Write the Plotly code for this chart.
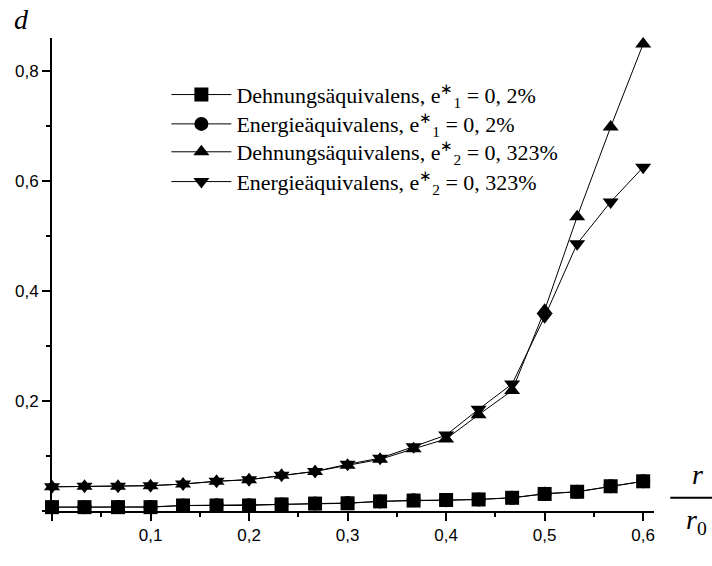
import plotly.graph_objects as go

# relative radius r/r0
r_ratio = [0.0, 0.033, 0.067, 0.1, 0.133, 0.167, 0.2, 0.233, 0.267, 0.3,
           0.333, 0.367, 0.4, 0.433, 0.467, 0.5, 0.533, 0.567, 0.6]

# damage d, e1* = 0,2 %
d_dehnung_e1 = [0.007, 0.007, 0.007, 0.007, 0.010, 0.010, 0.010, 0.012, 0.0135, 0.014,
                0.0175, 0.019, 0.020, 0.021, 0.024, 0.031, 0.035, 0.045, 0.054]
d_energie_e1 = [0.007, 0.007, 0.0075, 0.0075, 0.010, 0.0105, 0.0105, 0.012, 0.0135, 0.0145,
                0.0175, 0.0195, 0.0195, 0.021, 0.024, 0.0315, 0.035, 0.045, 0.054]

# damage d, e2* = 0,323 %
d_dehnung_e2 = [0.044, 0.045, 0.045, 0.046, 0.049, 0.054, 0.057, 0.065, 0.072, 0.083,
                0.094, 0.113, 0.131, 0.175, 0.219, 0.365, 0.535, 0.698, 0.849]
d_energie_e2 = [0.044, 0.045, 0.045, 0.046, 0.049, 0.054, 0.057, 0.065, 0.072, 0.085,
                0.096, 0.117, 0.138, 0.185, 0.231, 0.353, 0.486, 0.562, 0.625]

series = [
    ("Dehnungsäquivalens, e<sup>∗</sup><sub>1</sub> = 0, 2%", d_dehnung_e1, "square"),
    ("Energieäquivalens, e<sup>∗</sup><sub>1</sub> = 0, 2%", d_energie_e1, "circle"),
    ("Dehnungsäquivalens, e<sup>∗</sup><sub>2</sub> = 0, 323%", d_dehnung_e2, "triangle-up"),
    ("Energieäquivalens, e<sup>∗</sup><sub>2</sub> = 0, 323%", d_energie_e2, "triangle-down"),
]

x_ticks = [0, 0.1, 0.2, 0.3, 0.4, 0.5, 0.6]
x_ticktext = ["", "0,1", "0,2", "0,3", "0,4", "0,5", "0,6"]
x_minor = [0.05, 0.15, 0.25, 0.35, 0.45, 0.55]
y_ticks = [0, 0.2, 0.4, 0.6, 0.8]
y_ticktext = ["", "0,2", "0,4", "0,6", "0,8"]
y_minor = [0.1, 0.3, 0.5, 0.7]

# one legend box per series so the row spacing can be set freely
legend_ids = ["legend", "legend2", "legend3", "legend4"]
legend_rows = [0.88, 0.818, 0.759, 0.696]

fig = go.Figure()
for (name, vals, sym), lid in zip(series, legend_ids):
    fig.add_trace(go.Scatter(
        x=r_ratio, y=vals, name=name, mode="lines+markers",
        legend=lid,
        line=dict(color="black", width=1),
        marker=dict(symbol=sym, size=14, color="black"),
        cliponaxis=False,
    ))

axis_common = dict(
    showline=True, linecolor="black", linewidth=2,
    ticks="outside", ticklen=8, tickwidth=1.5, tickcolor="black",
    showgrid=False, zeroline=False,
    tickfont=dict(family="Liberation Sans, Arial, sans-serif", size=17, color="black"),
)

fig.update_xaxes(
    range=[0, 0.611], tickmode="array", tickvals=x_ticks, ticktext=x_ticktext,
    minor=dict(tickmode="array", tickvals=x_minor, ticks="outside", ticklen=4,
               tickwidth=1.5, tickcolor="black"),
    **axis_common,
)
fig.update_yaxes(
    range=[0, 0.86], tickmode="array", tickvals=y_ticks, ticktext=y_ticktext,
    minor=dict(tickmode="array", tickvals=y_minor, ticks="outside", ticklen=4,
               tickwidth=1.5, tickcolor="black"),
    **axis_common,
)

serif = "Liberation Serif, Times New Roman, serif"

fig.add_annotation(text="<i>d</i>", xref="paper", yref="paper", x=-0.051, y=1.04,
                   xanchor="center", yanchor="middle", showarrow=False,
                   font=dict(family=serif, size=28, color="black"))
fig.add_annotation(text="<i>r</i>", xref="paper", yref="paper", x=1.073, y=0.078,
                   xanchor="center", yanchor="middle", showarrow=False,
                   font=dict(family=serif, size=28, color="black"))
fig.add_annotation(text="<i>r</i><sub>0</sub>", xref="paper", yref="paper", x=1.07, y=-0.022,
                   xanchor="center", yanchor="middle", showarrow=False,
                   font=dict(family=serif, size=28, color="black"))
fig.add_shape(type="line", xref="paper", yref="paper", x0=1.027, x1=1.1,
              y0=0.028, y1=0.028, line=dict(color="black", width=2))

legend_style = dict(
    x=0.19, xanchor="left", yanchor="middle",
    bgcolor="rgba(0,0,0,0)", borderwidth=0,
    font=dict(family=serif, size=22, color="black"),
    itemwidth=60,
)
layout_legends = {lid: dict(y=ly, **legend_style) for lid, ly in zip(legend_ids, legend_rows)}

fig.update_layout(
    width=712, height=566,
    margin=dict(l=52, r=58, t=38, b=55),
    paper_bgcolor="white", plot_bgcolor="white",
    separators=",.",
    showlegend=True,
    **layout_legends,
)

fig.write_html("out.html")
